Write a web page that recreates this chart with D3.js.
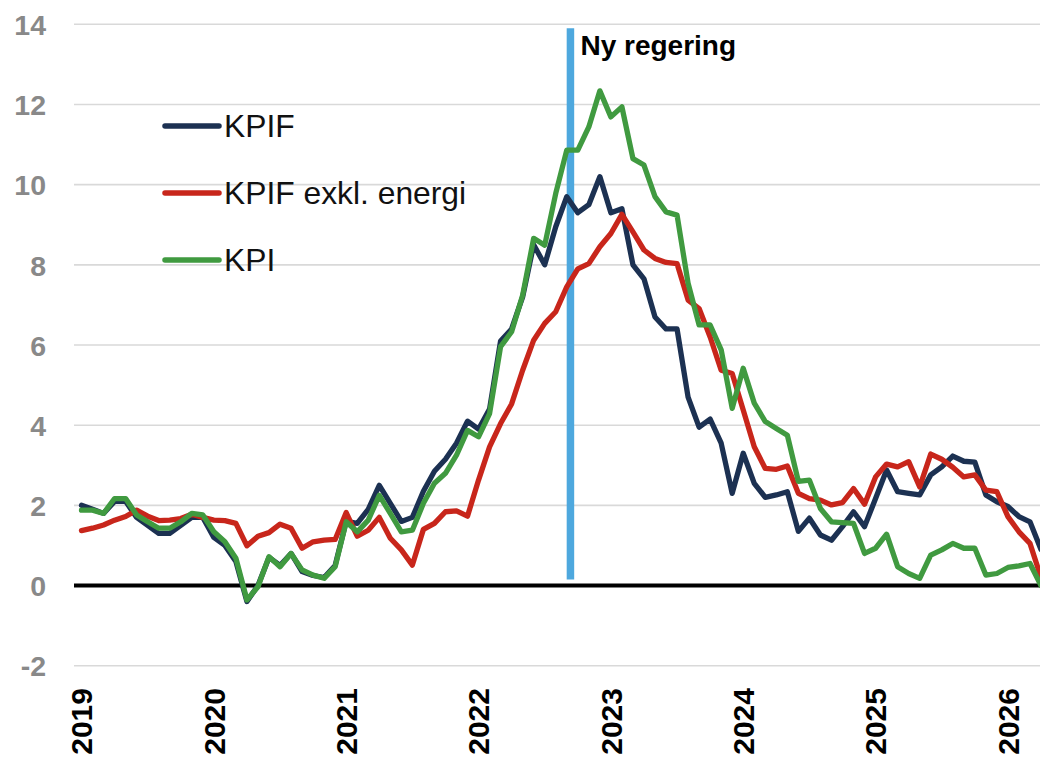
<!DOCTYPE html>
<html>
<head>
<meta charset="utf-8">
<script src="https://cdn.jsdelivr.net/npm/d3@7"></script>
<style>
  html, body { margin: 0; padding: 0; background: #ffffff; }
  svg { display: block; }
</style>
</head>
<body>
<svg id="chart" width="1040" height="758"></svg>
<script>
// ---------- DATA (monthly, Jan 2019 – Apr 2026) ----------
const startYear = 2019;
const startMonth = 0; // January
const yearTicks = [2019, 2020, 2021, 2022, 2023, 2024, 2025, 2026];
const yTicks = [-2, 0, 2, 4, 6, 8, 10, 12, 14];

const seriesNames = ["KPIF", "KPIF exkl. energi", "KPI"];

const kpif = [
  2.0, 1.9, 1.8, 2.1, 2.1, 1.7, 1.5, 1.3, 1.3, 1.5, 1.7, 1.7,
  1.2, 1.0, 0.6, -0.4, 0.0, 0.7, 0.5, 0.8, 0.35, 0.25, 0.2, 0.5,
  1.6, 1.55, 1.9, 2.5, 2.05, 1.6, 1.7, 2.35, 2.85, 3.15, 3.55, 4.1,
  3.9, 4.4, 6.1, 6.4, 7.2, 8.5, 8.0, 8.95, 9.7, 9.3, 9.5, 10.2,
  9.3, 9.4, 8.0, 7.65, 6.7, 6.4, 6.4, 4.7, 3.95, 4.15, 3.55, 2.3,
  3.3, 2.55, 2.2, 2.26, 2.34, 1.35, 1.68, 1.26, 1.13, 1.47, 1.84, 1.47,
  2.17, 2.88, 2.34, 2.3, 2.26, 2.76, 2.96, 3.23, 3.1, 3.08, 2.26, 2.09,
  1.97, 1.72, 1.59, 0.9
];

const kpifExEnergy = [
  1.37, 1.43, 1.51, 1.63, 1.72, 1.88, 1.73, 1.62, 1.63, 1.67, 1.78, 1.7,
  1.63, 1.62, 1.55, 0.99, 1.23, 1.32, 1.53, 1.43, 0.93, 1.09, 1.13, 1.15,
  1.82, 1.23, 1.38, 1.7, 1.18, 0.89, 0.51, 1.4, 1.55, 1.84, 1.86, 1.73,
  2.63, 3.46, 4.04, 4.53, 5.37, 6.12, 6.54, 6.83, 7.45, 7.9, 8.03, 8.45,
  8.78, 9.26, 8.82, 8.37, 8.16, 8.06, 8.03, 7.12, 6.91, 6.2, 5.37, 5.29,
  4.38, 3.46, 2.92, 2.9, 2.98, 2.3, 2.17, 2.13, 2.01, 2.07, 2.42, 2.03,
  2.71, 3.03, 2.96, 3.09, 2.46, 3.28, 3.15, 2.95, 2.71, 2.76, 2.38, 2.34,
  1.72, 1.34, 1.05, 0.2
];

const kpi = [
  1.88, 1.88, 1.8, 2.17, 2.17, 1.76, 1.59, 1.43, 1.43, 1.59, 1.8, 1.76,
  1.34, 1.09, 0.68, -0.36, -0.03, 0.72, 0.47, 0.8, 0.39, 0.26, 0.18, 0.47,
  1.59, 1.34, 1.63, 2.25, 1.8, 1.34, 1.38, 2.05, 2.55, 2.8, 3.25, 3.87,
  3.71, 4.29, 5.96, 6.33, 7.24, 8.66, 8.49, 9.78, 10.86, 10.86, 11.44, 12.34,
  11.69, 11.94, 10.65, 10.49, 9.7, 9.32, 9.24, 7.54, 6.5, 6.5, 5.88, 4.42,
  5.42, 4.55, 4.09, 3.92, 3.75, 2.6, 2.63, 1.92, 1.59, 1.57, 1.55, 0.8,
  0.93, 1.28, 0.47, 0.3, 0.18, 0.76, 0.89, 1.05, 0.93, 0.93, 0.26, 0.3,
  0.45, 0.49, 0.55, 0.0
];

// Event marker: new government (election 11 Sep 2022)
const markerLabel = "Ny regering";
const markerYear = 2022, markerMonth = 8, markerDay = 11;
const markerTop = 13.9, markerBottom = 0.15, markerLabelAt = 13.23;

// ---------- STYLE ----------
const colors = ["#1c3152", "#c8261b", "#409a40"];
const markerColor = "#4ea8de";

// ---------- LAYOUT ----------
const svg = d3.select("#chart");
const plotLeft = 74, plotRight = 1040;

const nMonths = kpif.length;
const x = d3.scaleLinear().domain([0, nMonths - 1]).range([81.5, 1041]);
const y = d3.scaleLinear().domain([-2, 14]).range([665.7, 24.3]);

const monthIndex = (yr, m, d) => (yr - startYear) * 12 + (m - startMonth) + (d ? (d - 1) / 30 : 0);

// gridlines
svg.append("g").selectAll("line")
  .data(yTicks.filter(t => t !== 0))
  .join("line")
  .attr("x1", plotLeft).attr("x2", plotRight)
  .attr("y1", d => y(d)).attr("y2", d => y(d))
  .attr("stroke", "#d9d9d9").attr("stroke-width", 1.6);

// y axis labels via d3 axis
const yAxis = d3.axisLeft(y).tickValues(yTicks).tickSize(0).tickPadding(0).tickFormat(d => String(d));
const gy = svg.append("g").attr("transform", "translate(46,0)").call(yAxis);
gy.select(".domain").remove();
gy.selectAll("text")
  .attr("font-family", "Liberation Sans, Arial, sans-serif")
  .attr("font-size", 28.5).attr("font-weight", "bold")
  .attr("fill", "#898989")
  .attr("dy", "0.36em");

// x axis labels (years), rotated
const gx = svg.append("g");
gx.selectAll("text")
  .data(yearTicks)
  .join("text")
  .attr("transform", d => `translate(${x(monthIndex(d, 0))},688) rotate(-90)`)
  .attr("text-anchor", "end")
  .attr("dy", "0.36em")
  .attr("font-family", "Liberation Sans, Arial, sans-serif")
  .attr("font-size", 30).attr("font-weight", "bold")
  .attr("fill", "#000")
  .text(d => d);

// zero line
svg.append("line")
  .attr("x1", plotLeft).attr("x2", plotRight)
  .attr("y1", y(0)).attr("y2", y(0))
  .attr("stroke", "#000").attr("stroke-width", 4);

// marker line
const mx = x(monthIndex(markerYear, markerMonth, markerDay));
svg.append("line")
  .attr("x1", mx).attr("x2", mx)
  .attr("y1", y(markerTop)).attr("y2", y(markerBottom))
  .attr("stroke", markerColor).attr("stroke-width", 7.5);

svg.append("text")
  .attr("x", mx + 10).attr("y", y(markerLabelAt))
  .attr("font-family", "Liberation Sans, Arial, sans-serif")
  .attr("font-size", 28).attr("font-weight", "bold")
  .attr("fill", "#000")
  .text(markerLabel);

// series lines
const allSeries = [kpif, kpifExEnergy, kpi];
const line = d3.line().x((d, i) => x(i)).y(d => y(d));
svg.append("g").selectAll("path")
  .data(allSeries)
  .join("path")
  .attr("d", d => line(d))
  .attr("fill", "none")
  .attr("stroke", (d, i) => colors[i])
  .attr("stroke-width", 5.3)
  .attr("stroke-linejoin", "round")
  .attr("stroke-linecap", "round");

// legend
const legend = svg.append("g");
const legendY = [126, 193, 260];
seriesNames.forEach((name, i) => {
  legend.append("line")
    .attr("x1", 165).attr("x2", 219)
    .attr("y1", legendY[i]).attr("y2", legendY[i])
    .attr("stroke", colors[i]).attr("stroke-width", 5.5)
    .attr("stroke-linecap", "round");
  legend.append("text")
    .attr("x", 224).attr("y", legendY[i])
    .attr("dy", "0.36em")
    .attr("font-family", "Liberation Sans, Arial, sans-serif")
    .attr("font-size", 31.8)
    .attr("fill", "#111")
    .text(name);
});
</script>
</body>
</html>
